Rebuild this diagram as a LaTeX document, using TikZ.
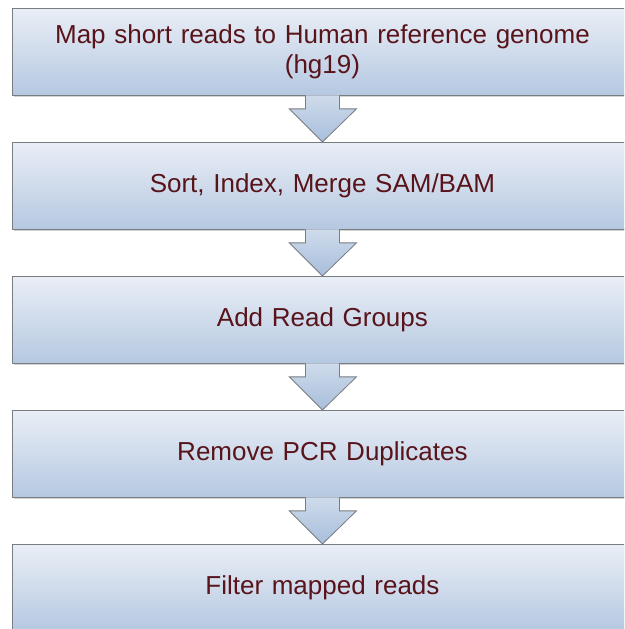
\documentclass[tikz,border=0pt]{standalone}
\usepackage{fontspec}
\setmainfont{Liberation Sans}
\usetikzlibrary{calc,shadows}
\definecolor{txtred}{RGB}{88,20,26}
\definecolor{boxtop}{RGB}{233,238,246}
\definecolor{boxbot}{RGB}{181,200,225}
\definecolor{arrtop}{RGB}{206,219,235}
\definecolor{arrbot}{RGB}{168,190,219}
\definecolor{edge}{RGB}{120,125,130}
\begin{document}
\begin{tikzpicture}[x=1pt,y=1pt,
  stepbox/.style={draw=edge, line width=0.9pt, top color=boxtop, bottom color=boxbot,
    minimum width=620pt, minimum height=87pt, inner sep=0pt, anchor=north west,
    drop shadow={shadow xshift=1.5pt, shadow yshift=-1.5pt, opacity=0.35},
    text=txtred, font=\fontsize{26}{30}\selectfont, align=center, text width=610pt},
  blockarrow/.style={draw=edge, line width=0.8pt, top color=arrtop, bottom color=arrbot, line join=miter}]
\useasboundingbox (0,0) rectangle (624,629);
\clip (0,0) rectangle (624,629);
\node[stepbox] (b1) at (12,621) {Map short reads to Human reference genome\\(hg19)};
\node[stepbox] (b2) at (12,487) {Sort, Index, Merge SAM/BAM};
\node[stepbox] (b3) at (12,353) {Add Read Groups};
\node[stepbox] (b4) at (12,219) {Remove PCR Duplicates};
\node[stepbox] (b5) at (12,85) {Filter mapped reads};
\foreach \a/\b in {b1/b2,b2/b3,b3/b4,b4/b5}{
  \path[blockarrow] ($(\a.south)+(-17,0.5)$) -- ($(\a.south)+(-17,-13)$) -- ($(\a.south)+(-33,-13)$)
     -- ($(\b.north)+(0,0)$) -- ($(\a.south)+(34,-13)$) -- ($(\a.south)+(17,-13)$) -- ($(\a.south)+(17,0.5)$);
}
\end{tikzpicture}
\end{document}
